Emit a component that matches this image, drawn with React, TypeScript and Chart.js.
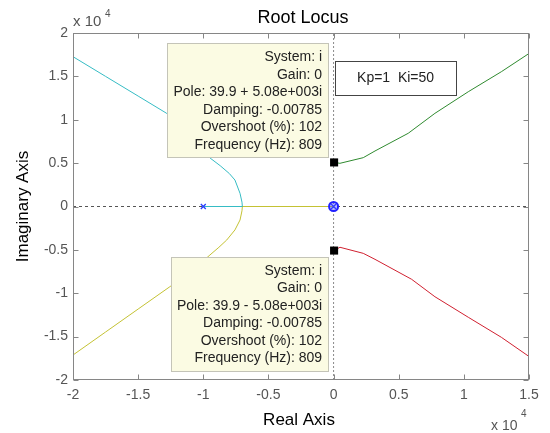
import React, { useEffect, useRef } from "react";
import { Chart, registerables } from "chart.js";

Chart.register(...registerables);

// ---- data (units of 1e4) ----
const xTickValues = [-2, -1.5, -1, -0.5, 0, 0.5, 1, 1.5];
const xTickLabels = ["-2", "-1.5", "-1", "-0.5", "0", "0.5", "1", "1.5"];
const yTickValues = [-2, -1.5, -1, -0.5, 0, 0.5, 1, 1.5, 2];
const yTickLabels = ["-2", "-1.5", "-1", "-0.5", "0", "0.5", "1", "1.5", "2"];

const cyanBranch: [number, number][] = [
  [-1.0, 0], [-0.7, 0], [-0.703, 0.05], [-0.718, 0.152], [-0.757, 0.305],
  [-0.8, 0.38], [-0.87, 0.47], [-0.948, 0.559], [-1.1, 0.8], [-1.281, 1.074],
  [-1.5, 1.273], [-1.75, 1.5], [-2.0, 1.727],
];
const yellowBranch: [number, number][] = [
  [0, 0], [-0.7, 0], [-0.703, -0.05], [-0.718, -0.156], [-0.757, -0.27],
  [-0.82, -0.386], [-0.88, -0.47], [-0.949, -0.559], [-1.1, -0.76], [-1.256, -0.924],
  [-1.5, -1.182], [-1.75, -1.447], [-2.0, -1.712],
];
const greenBranch: [number, number][] = [
  [0.004, 0.508], [0.049, 0.498], [0.228, 0.563], [0.318, 0.64], [0.573, 0.844],
  [0.778, 1.074], [1.034, 1.323], [1.288, 1.554], [1.502, 1.766],
];
const redBranch: [number, number][] = [
  [0.004, -0.508], [0.049, -0.47], [0.228, -0.54], [0.318, -0.609], [0.599, -0.839],
  [0.778, -1.04], [1.034, -1.277], [1.288, -1.508], [1.502, -1.731],
];
const openLoopPoles: [number, number][] = [[-1.0, 0], [0, 0]];
const openLoopZeros: [number, number][] = [[0, 0]];
const selectedPoles: [number, number][] = [[0.004, 0.508], [0.004, -0.508]];

const tipUpper = [
  "System: i",
  "Gain: 0",
  "Pole: 39.9 + 5.08e+003i",
  "Damping: -0.00785",
  "Overshoot (%): 102",
  "Frequency (Hz): 809",
];
const tipLower = [
  "System: i",
  "Gain: 0",
  "Pole: 39.9 - 5.08e+003i",
  "Damping: -0.00785",
  "Overshoot (%): 102",
  "Frequency (Hz): 809",
];
const noteText = "Kp=1  Ki=50";
const titleText = "Root Locus";
const xTitle = "Real Axis";
const yTitle = "Imaginary Axis";

const FONT = "'Liberation Sans', Arial, Helvetica, sans-serif";
const pts = (a: [number, number][]) => a.map(([x, y]) => ({ x, y }));

function drawTip(ctx: CanvasRenderingContext2D, lines: string[], right: number, top: number | null, bottom: number | null) {
  ctx.save();
  ctx.font = `14px ${FONT}`;
  const w = Math.max(...lines.map((l) => ctx.measureText(l).width)) + 12;
  const lh = 17.5;
  const h = lines.length * lh + 9;
  const t = top !== null ? top : (bottom as number) - h;
  const l = right - w;
  ctx.fillStyle = "#fbfbe3";
  ctx.fillRect(l, t, w, h);
  ctx.strokeStyle = "#c4c4b8";
  ctx.lineWidth = 1;
  ctx.strokeRect(Math.round(l) + 0.5, Math.round(t) + 0.5, Math.round(w), Math.round(h));
  ctx.fillStyle = "#222";
  ctx.textAlign = "right";
  ctx.textBaseline = "middle";
  lines.forEach((s, i) => ctx.fillText(s, right - 6, t + 4.5 + lh * i + lh / 2 + 0.5));
  ctx.restore();
}

const decorPlugin = {
  id: "decor",
  afterDatasetsDraw(chart: any) {
    const ctx: CanvasRenderingContext2D = chart.ctx;
    const xs = chart.scales.x;
    const ys = chart.scales.y;
    const a = chart.chartArea;
    // data tips anchored on the selected poles
    const px = xs.getPixelForValue(selectedPoles[0][0]);
    const pyU = ys.getPixelForValue(selectedPoles[0][1]);
    const pyL = ys.getPixelForValue(selectedPoles[1][1]);
    drawTip(ctx, tipUpper, px - 6, null, pyU - 5);
    drawTip(ctx, tipLower, px - 6, pyL + 6.5, null);
    // note box
    ctx.save();
    const bx = xs.getPixelForValue(0) + 1;
    const by = a.top + 28;
    ctx.fillStyle = "#fff";
    ctx.fillRect(bx, by, 121, 34);
    ctx.strokeStyle = "#444";
    ctx.lineWidth = 1;
    ctx.strokeRect(Math.round(bx) + 0.5, Math.round(by) + 0.5, 121, 34);
    ctx.fillStyle = "#222";
    ctx.font = `14px ${FONT}`;
    ctx.textAlign = "center";
    ctx.textBaseline = "middle";
    ctx.fillText(noteText, bx + 61, by + 17.5);
    ctx.restore();
  },
  afterDraw(chart: any) {
    const ctx: CanvasRenderingContext2D = chart.ctx;
    const xs = chart.scales.x;
    const ys = chart.scales.y;
    const a = chart.chartArea;
    ctx.save();
    // frame
    ctx.strokeStyle = "#868686";
    ctx.lineWidth = 1;
    const L = Math.round(a.left) + 0.5, R = Math.round(a.right) - 0.5;
    const T = Math.round(a.top) + 0.5, B = Math.round(a.bottom) - 0.5;
    ctx.strokeRect(L, T, R - L, B - T);
    // inner tick marks
    ctx.beginPath();
    xTickValues.forEach((v) => {
      const x = Math.round(xs.getPixelForValue(v)) + 0.5;
      ctx.moveTo(x, B); ctx.lineTo(x, B - 5);
      ctx.moveTo(x, T); ctx.lineTo(x, T + 5);
    });
    yTickValues.forEach((v) => {
      const y = Math.round(ys.getPixelForValue(v)) + 0.5;
      ctx.moveTo(L, y); ctx.lineTo(L + 5, y);
      ctx.moveTo(R, y); ctx.lineTo(R - 5, y);
    });
    ctx.stroke();
    // title
    const cx = (a.left + a.right) / 2;
    ctx.fillStyle = "#000";
    ctx.textAlign = "center";
    ctx.textBaseline = "alphabetic";
    ctx.font = `18px ${FONT}`;
    ctx.fillText(titleText, cx + 2, a.top - 10);
    // x title
    ctx.font = `17px ${FONT}`;
    ctx.fillText(xTitle, cx - 2, a.bottom + 45);
    // y title
    ctx.save();
    ctx.translate(a.left - 50, (a.top + a.bottom) / 2);
    ctx.rotate(-Math.PI / 2);
    ctx.textBaseline = "middle";
    ctx.fillText(yTitle, 0, 0);
    ctx.restore();
    // exponent labels
    ctx.fillStyle = "#555";
    ctx.textAlign = "left";
    ctx.font = `15px ${FONT}`;
    ctx.fillText("x 10", a.left, a.top - 7);
    ctx.font = `10px ${FONT}`;
    ctx.fillText("4", a.left + 32, a.top - 16);
    ctx.font = `14px ${FONT}`;
    ctx.fillText("x 10", a.right - 38, a.bottom + 50);
    ctx.font = `10px ${FONT}`;
    ctx.fillText("4", a.right - 8, a.bottom + 37);
    ctx.restore();
  },
};

export default function App() {
  const ref = useRef<HTMLCanvasElement | null>(null);
  useEffect(() => {
    if (!ref.current) return;
    const line = (data: [number, number][], color: string, order: number) => ({
      data: pts(data),
      showLine: true,
      borderColor: color,
      backgroundColor: color,
      borderWidth: 1,
      pointRadius: 0,
      tension: 0,
      order,
    });
    const chart = new Chart(ref.current, {
      type: "scatter",
      data: {
        datasets: [
          {
            data: [{ x: xTickValues[0], y: 0 }, { x: xTickValues[xTickValues.length - 1], y: 0 }],
            showLine: true,
            borderColor: "#555",
            borderWidth: 1,
            borderDash: [3, 3],
            pointRadius: 0,
            order: 20,
          },
          {
            data: [{ x: 0, y: yTickValues[0] }, { x: 0, y: yTickValues[yTickValues.length - 1] }],
            showLine: true,
            borderColor: "#8a8a8a",
            borderWidth: 1,
            borderDash: [2, 2],
            pointRadius: 0,
            order: 19,
          },
          line(cyanBranch, "#36bcc4", 10),
          line(yellowBranch, "#c4c234", 10),
          line(greenBranch, "#2f8a2f", 10),
          line(redBranch, "#d02030", 10),
          {
            data: pts(openLoopPoles),
            showLine: false,
            pointStyle: "crossRot",
            pointRadius: 3.5,
            borderColor: "#2a3cff",
            borderWidth: 1.3,
            order: 3,
          },
          {
            data: pts(openLoopZeros),
            showLine: false,
            pointStyle: "circle",
            pointRadius: 4.5,
            borderColor: "#2020ff",
            backgroundColor: "rgba(60,60,255,0.35)",
            borderWidth: 2,
            order: 2,
          },
          {
            data: pts(selectedPoles),
            showLine: false,
            pointStyle: "rect",
            pointRadius: 5.7,
            borderColor: "#000",
            backgroundColor: "#000",
            borderWidth: 0,
            order: 1,
          },
        ],
      },
      options: {
        animation: false,
        responsive: false,
        devicePixelRatio: 1,
        events: [],
        layout: { padding: { left: 0, right: 21, top: 33, bottom: 0 } },
        plugins: { legend: { display: false }, tooltip: { enabled: false }, title: { display: false } },
        scales: {
          x: {
            type: "linear",
            min: xTickValues[0],
            max: xTickValues[xTickValues.length - 1],
            grid: { display: false, drawTicks: false, tickLength: 0 },
            border: { display: false },
            afterFit: (s: any) => { s.height = 53; },
            afterBuildTicks: (s: any) => { s.ticks = xTickValues.map((v) => ({ value: v })); },
            ticks: {
              padding: 7,
              maxRotation: 0,
              autoSkip: false,
              color: "#555",
              font: { family: FONT, size: 14 },
              callback: (v: any) => xTickLabels[xTickValues.indexOf(Number(v))] ?? "",
            },
          },
          y: {
            type: "linear",
            min: yTickValues[0],
            max: yTickValues[yTickValues.length - 1],
            grid: { display: false, drawTicks: false, tickLength: 0 },
            border: { display: false },
            afterFit: (s: any) => { s.width = 73; },
            afterBuildTicks: (s: any) => { s.ticks = yTickValues.map((v) => ({ value: v })); },
            ticks: {
              padding: 5,
              autoSkip: false,
              color: "#555",
              font: { family: FONT, size: 14 },
              callback: (v: any) => yTickLabels[yTickValues.indexOf(Number(v))] ?? "",
            },
          },
        },
      },
      plugins: [decorPlugin],
    } as any);
    return () => chart.destroy();
  }, []);
  return (
    <canvas
      ref={ref}
      width={550}
      height={433}
      style={{ position: "absolute", left: 0, top: 0, width: 550, height: 433, background: "#fff" }}
    />
  );
}
